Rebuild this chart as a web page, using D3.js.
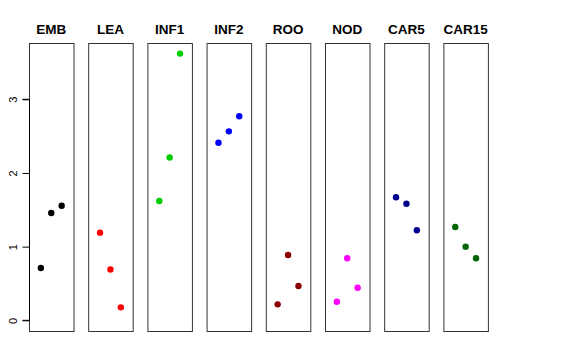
<!DOCTYPE html>
<html><head><meta charset="utf-8">
<script src="https://cdn.jsdelivr.net/npm/d3@7"></script>
<style>body{margin:0;background:#fff}svg{display:block}</style>
</head><body>
<script>
const categories = ["EMB","LEA","INF1","INF2","ROO","NOD","CAR5","CAR15"];
const colors = ["#000000","#FF0000","#00CD00","#0000FF","#8B0000","#FF00FF","#00008B","#006400"];
const EMB = [0.71, 1.456, 1.556];
const LEA = [1.19, 0.69, 0.176];
const INF1 = [1.62, 2.21, 3.62];
const INF2 = [2.41, 2.565, 2.77];
const ROO = [0.217, 0.886, 0.466];
const NOD = [0.253, 0.842, 0.443];
const CAR5 = [1.67, 1.583, 1.222];
const CAR15 = [1.267, 1.0, 0.842];
const seriesValues = [EMB, LEA, INF1, INF2, ROO, NOD, CAR5, CAR15];
const yTicks = [0, 1, 2, 3];

const W = 576, H = 360;
const svg = d3.select("body").append("svg").attr("width", W).attr("height", H);

const panel = d3.scaleBand().domain(categories).range([29, 487.9]).paddingInner(0.248);
const y = d3.scaleLinear().domain([-0.145, 3.764]).range([331, 43]);
const xIn = d3.scaleLinear().domain([1 - 1.14, 3 + 1.14]).range([0, panel.bandwidth()]);

categories.forEach((cat, i) => {
  const g = svg.append("g").attr("transform", `translate(${panel(cat)},0)`);
  g.append("rect").attr("x", 0.5).attr("y", 43.5).attr("width", panel.bandwidth()).attr("height", 288)
    .attr("fill", "none").attr("stroke", "#333").attr("stroke-width", 1);
  g.append("text").attr("x", panel.bandwidth() / 2).attr("y", 34)
    .attr("text-anchor", "middle").attr("font-family", "Liberation Sans, Arial, sans-serif")
    .attr("font-weight", "bold").attr("font-size", 13.5).text(cat);
  g.selectAll("circle").data(seriesValues[i]).enter().append("circle")
    .attr("cx", (d, j) => xIn(j + 1)).attr("cy", d => y(d)).attr("r", 3.2)
    .attr("fill", colors[i]);
});

const axis = d3.axisLeft(y).tickValues(yTicks).tickSize(7).tickPadding(4).tickFormat(d3.format("d"));
const ag = svg.append("g").attr("transform", "translate(29.5,0)").call(axis);
ag.select(".domain").attr("d", `M-7,${y(0)}H0V${y(3)}H-7`).attr("stroke", "#000");
ag.selectAll(".tick line").attr("stroke", "#000");
ag.selectAll(".tick text")
  .attr("font-family", "Liberation Sans, Arial, sans-serif").attr("font-size", 11).attr("fill", "#000")
  .attr("text-anchor", "middle").attr("x", 0).attr("dy", 0)
  .attr("transform", "translate(-15,0) rotate(-90)").attr("y", 0)
  .attr("dominant-baseline", "middle");
</script>
</body></html>
